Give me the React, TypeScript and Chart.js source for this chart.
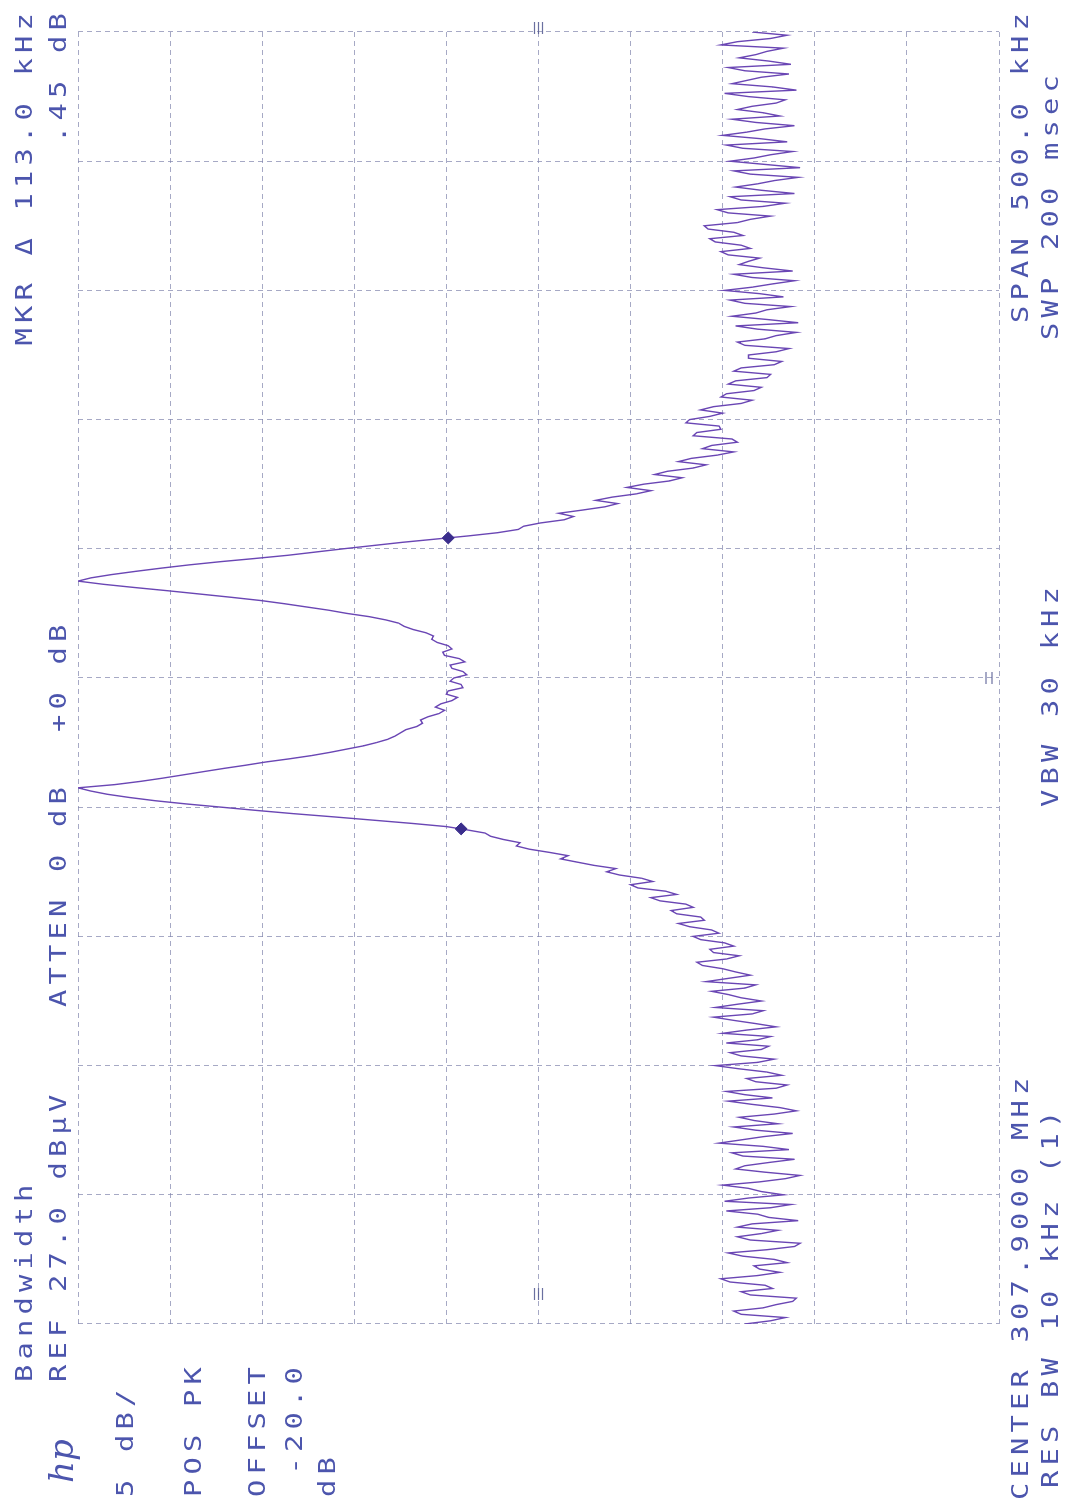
import React, { useEffect, useRef } from "react";
import { Chart, registerables } from "chart.js";

Chart.register(...registerables);

// ---------- data (spectrum analyzer trace) ----------
// Frequency axis: offset from CENTER 307.9000 MHz in kHz, SPAN 500 kHz (401 trace points)
const SPAN_START_KHZ = -250;
const STEP_KHZ = 1.25;
// Level in dBµV (REF 27.0 dBµV, 5 dB/div), one value every 1.25 kHz from -250 to +250 kHz
const traceLevel = [
  -9.2, -10.6, -11.4, -9.0, -8.6, -10.2, -10.9, -11.8, -12.0, -9.5,
  -9.0, -10.7, -10.3, -8.4, -7.9, -9.9, -11.1, -10.0, -9.7, -11.5,
  -10.8, -9.1, -8.3, -10.4, -11.9, -12.2, -9.5, -8.8, -10.1, -11.0,
  -8.8, -9.6, -12.1, -10.5, -9.9, -8.2, -10.6, -11.7, -8.1, -9.4,
  -11.3, -10.1, -9.4, -8.0, -10.0, -11.4, -12.2, -10.3, -8.7, -9.2,
  -10.5, -11.9, -9.1, -8.5, -11.6, -10.2, -7.8, -9.0, -10.2, -11.8,
  -9.8, -8.6, -11.0, -9.7, -8.9, -10.8, -12.0, -11.1, -9.6, -8.3,
  -10.7, -9.2, -8.2, -10.9, -11.5, -9.8, -9.3, -11.2, -10.4, -8.9,
  -7.6, -9.9, -10.8, -9.0, -8.4, -10.1, -10.5, -8.2, -9.9, -10.6,
  -8.0, -9.3, -10.9, -9.8, -8.6, -7.5, -9.6, -10.2, -7.6, -8.8,
  -10.1, -9.0, -8.3, -7.4, -9.2, -9.8, -7.1, -8.3, -9.5, -8.7,
  -8.0, -6.9, -6.6, -8.2, -8.9, -7.5, -7.3, -8.6, -8.1, -6.8,
  -6.4, -7.8, -7.4, -6.2, -5.6, -7.0, -6.8, -5.5, -5.2, -6.4,
  -6.0, -4.6, -4.1, -5.5, -4.9, -3.4, -3.0, -4.2, -3.6, -2.4,
  -1.7, -2.2, -1.0, -0.1, 0.8, 0.4, 1.4, 2.5, 3.2, 3.0,
  3.9, 4.6, 4.9, 5.9, 7.0, 8.9, 11.0, 13.1, 15.3, 17.3,
  19.2, 21.1, 22.8, 24.2, 25.4, 26.3, 27.0, 25.0, 23.6, 22.4,
  21.3, 20.2, 19.1, 17.9, 16.8, 15.5, 14.3, 13.3, 12.4, 11.5,
  10.8, 10.2, 9.8, 9.5, 9.2, 8.6, 8.3, 8.4, 8.0, 7.4,
  7.1, 7.6, 7.3, 6.7, 6.4, 7.0, 6.9, 6.1, 6.2, 6.8,
  6.6, 5.9, 6.1, 6.7, 6.8, 6.0, 6.3, 7.1, 7.2, 6.7,
  6.9, 7.5, 7.8, 7.7, 8.1, 8.8, 9.3, 9.6, 10.3, 11.2,
  12.4, 13.4, 14.6, 15.8, 17.1, 18.7, 20.4, 22.1, 23.9, 25.6,
  27.0, 26.3, 25.2, 23.9, 22.5, 21.0, 19.3, 17.4, 15.6, 14.1,
  12.6, 11.0, 9.4, 7.6, 5.8, 4.2, 3.1, 2.8, 1.9, 0.6,
  0.1, 0.9, -0.4, -1.6, -2.3, -1.1, -2.0, -3.3, -4.1, -2.8,
  -3.7, -5.1, -5.8, -4.3, -5.0, -6.4, -7.1, -5.6, -6.3, -7.7,
  -8.6, -6.9, -7.4, -8.8, -8.5, -6.4, -6.6, -7.9, -7.8, -6.0,
  -6.2, -7.3, -8.0, -6.8, -7.5, -9.0, -9.6, -7.9, -8.2, -9.7,
  -10.1, -8.3, -8.7, -10.4, -10.6, -8.6, -9.0, -10.8, -11.2, -9.4,
  -9.4, -10.9, -11.6, -9.2, -8.8, -10.3, -10.9, -12.0, -9.9, -8.7,
  -12.1, -10.4, -8.5, -9.8, -10.4, -11.7, -9.2, -8.4, -11.3, -10.0,
  -8.1, -9.6, -10.7, -11.9, -9.6, -8.6, -11.8, -10.2, -8.9, -9.4,
  -10.0, -8.3, -7.9, -9.5, -9.0, -7.6, -7.3, -9.1, -8.6, -7.2,
  -7.0, -8.8, -9.5, -10.6, -8.3, -7.7, -10.2, -11.4, -9.0, -8.4,
  -11.9, -10.1, -8.7, -9.9, -10.8, -12.1, -9.5, -8.6, -12.2, -10.3,
  -8.4, -9.7, -10.6, -11.8, -9.1, -8.2, -11.5, -10.0, -8.0, -9.3,
  -10.3, -11.9, -9.8, -8.5, -11.1, -10.2, -8.8, -9.6, -10.9, -11.4,
  -9.4, -8.1, -12.0, -10.7, -8.5, -9.3, -10.1, -11.6, -9.2, -8.3,
  -11.7, -10.5, -8.9, -9.8, -10.4, -11.3, -7.9, -8.8, -10.6, -11.5,
  -9.6,
];
// Delta-marker pair (MKR Δ 113.0 kHz)
const markerFreq = [-58.4, 54.2];
const markerLevel = [6.2, 6.9];
// Graticule: 10 divisions each way
const freqTicks = [-250, -200, -150, -100, -50, 0, 50, 100, 150, 200, 250];
const levelTicks = [-23, -18, -13, -8, -3, 2, 7, 12, 17, 22, 27];

// ---------- styling / layout (screen is drawn landscape, then rotated) ----------
const W = 1504;
const H = 1065;
const TEXT_COLOR = "#4c55ad";
const TRACE_COLOR = "#6a46b4";
const GRID_COLOR = "rgba(128,132,172,0.7)";
const FONT_SIZE = 23;
const SCALE_X = 1.25;
const PITCH = 22.5;
const LS = PITCH / SCALE_X - 0.602 * FONT_SIZE;

type Ann = { text: string; u: number; v: number; align?: "left" | "right" };
const annotations: Ann[] = [
  { text: "Bandwidth", u: 122, v: 24 },
  { text: "MKR \u0394 113.0 kHz", u: 1491, v: 24, align: "right" },
  { text: "REF 27.0 dB\u00b5V", u: 122, v: 58 },
  { text: "ATTEN 0 dB", u: 497, v: 58 },
  { text: "+0 dB", u: 772, v: 58 },
  { text: ".45 dB", u: 1491, v: 58, align: "right" },
  { text: "5 dB/", u: 7, v: 125 },
  { text: "POS PK", u: 7, v: 193 },
  { text: "OFFSET", u: 7, v: 257 },
  { text: " -20.0", u: 7, v: 294 },
  { text: "dB", u: 7, v: 327 },
  { text: "CENTER 307.9000 MHz", u: 4, v: 1020 },
  { text: "SPAN 500.0 kHz", u: 1491, v: 1020, align: "right" },
  { text: "RES BW 10 kHz (1)", u: 16, v: 1050 },
  { text: "VBW 30 kHz", u: 697, v: 1050 },
  { text: "SWP 200 msec", u: 1164, v: 1050 },
];

function Label({ a }: { a: Ann }) {
  const right = a.align === "right";
  const style: React.CSSProperties = {
    position: "absolute",
    top: a.v - 11,
    whiteSpace: "pre",
    fontFamily: "'DejaVu Sans Mono', monospace",
    fontSize: FONT_SIZE,
    lineHeight: `${FONT_SIZE}px`,
    letterSpacing: `${LS}px`,
    color: TEXT_COLOR,
    transform: `scaleX(${SCALE_X})`,
    transformOrigin: right ? "100% 50%" : "0 50%",
  };
  if (right) style.right = W - a.u - LS * SCALE_X;
  else style.left = a.u;
  return <div style={style}>{a.text}</div>;
}

const edgeMarks = {
  id: "edgeMarks",
  afterDraw(chart: any) {
    const { ctx, scales, chartArea } = chart;
    const yMid = scales.y.getPixelForValue(levelTicks[5]);
    const xMid = scales.x.getPixelForValue(freqTicks[5]);
    ctx.save();
    ctx.strokeStyle = "rgba(90,96,150,0.9)";
    ctx.lineWidth = 1.2;
    const dash = (x1: number, y1: number, x2: number, y2: number) => {
      ctx.beginPath();
      ctx.moveTo(x1, y1);
      ctx.lineTo(x2, y2);
      ctx.stroke();
    };
    for (const d of [-4, 0, 4]) {
      dash(chartArea.left + 24, yMid + d, chartArea.left + 36, yMid + d);
      dash(chartArea.right - 2, yMid + d, chartArea.right + 10, yMid + d);
    }
    for (const d of [-3, 3]) {
      dash(xMid - 6, chartArea.bottom - 10 + d, xMid + 6, chartArea.bottom - 10 + d);
    }
    ctx.restore();
  },
};

export default function App() {
  const ref = useRef<HTMLCanvasElement>(null);

  useEffect(() => {
    const canvas = ref.current;
    if (!canvas) return;
    const tracePoints = traceLevel.map((y, i) => ({ x: SPAN_START_KHZ + i * STEP_KHZ, y }));
    const markerPoints = markerFreq.map((x, i) => ({ x, y: markerLevel[i] }));
    const gridOpts = { color: GRID_COLOR, lineWidth: 1, drawTicks: false };
    const borderOpts = { display: false, dash: [5, 4] };
    const chart = new Chart(canvas, {
      type: "scatter",
      data: {
        datasets: [
          {
            data: markerPoints,
            showLine: false,
            pointStyle: "rectRot",
            pointRadius: 6,
            backgroundColor: "#3a2d8c",
            borderColor: "#3a2d8c",
            order: 1,
          },
          {
            data: tracePoints,
            showLine: true,
            borderColor: TRACE_COLOR,
            borderWidth: 1.4,
            pointRadius: 0,
            tension: 0,
            order: 2,
          },
        ],
      },
      options: {
        responsive: false,
        animation: false,
        events: [],
        layout: { padding: { left: 180, right: 32, top: 78, bottom: 66 } },
        plugins: {
          legend: { display: false },
          tooltip: { enabled: false },
          title: { display: false },
        },
        scales: {
          x: {
            type: "linear",
            min: freqTicks[0],
            max: freqTicks[freqTicks.length - 1],
            afterBuildTicks: (axis: any) => {
              axis.ticks = freqTicks.map((value) => ({ value }));
            },
            ticks: { display: false },
            grid: gridOpts,
            border: borderOpts,
          },
          y: {
            type: "linear",
            min: levelTicks[0],
            max: levelTicks[levelTicks.length - 1],
            afterBuildTicks: (axis: any) => {
              axis.ticks = levelTicks.map((value) => ({ value }));
            },
            ticks: { display: false },
            grid: gridOpts,
            border: borderOpts,
          },
        },
      } as any,
      plugins: [edgeMarks],
    });
    return () => chart.destroy();
  }, []);

  return (
    <div
      style={{
        position: "absolute",
        left: 0,
        top: 0,
        width: H,
        height: W,
        overflow: "hidden",
        background: "#ffffff",
      }}
    >
      <div
        style={{
          position: "absolute",
          left: 0,
          top: 0,
          width: W,
          height: H,
          transformOrigin: "0 0",
          transform: `translateY(${W}px) rotate(-90deg)`,
        }}
      >
        <canvas ref={ref} width={W} height={H} style={{ display: "block", position: "absolute", left: 0, top: 0 }} />
        <div
          style={{
            position: "absolute",
            left: 21,
            top: 44,
            fontFamily: "'DejaVu Serif', serif",
            fontStyle: "italic",
            fontSize: 34,
            lineHeight: "34px",
            color: TEXT_COLOR,
          }}
        >
          hp
        </div>
        {annotations.map((a, i) => (
          <Label key={i} a={a} />
        ))}
      </div>
    </div>
  );
}
